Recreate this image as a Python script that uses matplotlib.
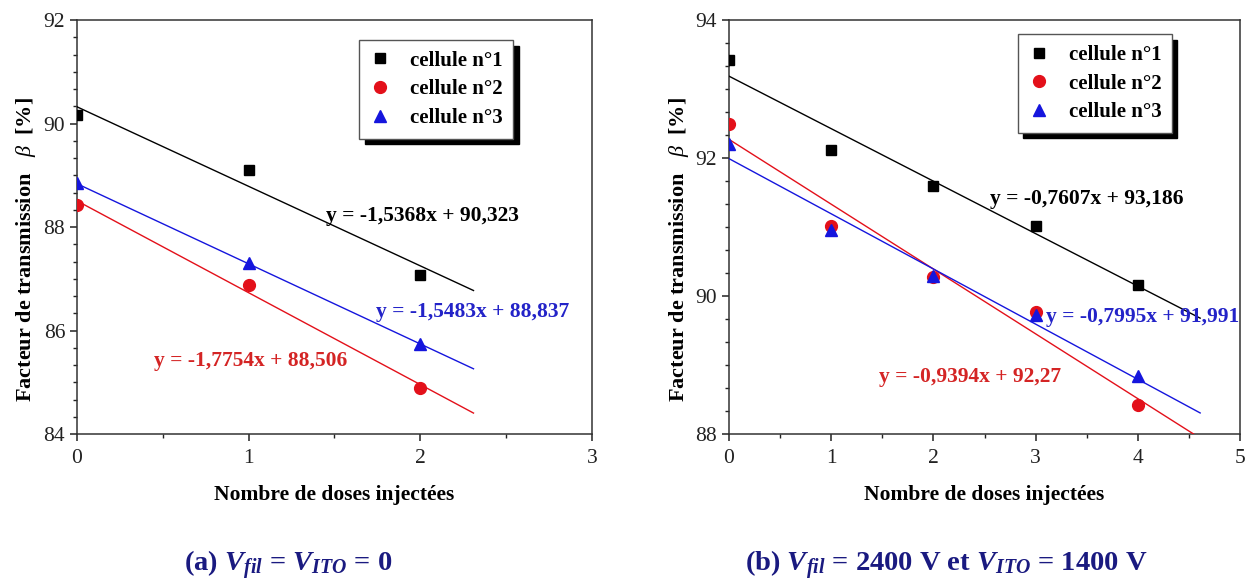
import matplotlib
matplotlib.use("Agg")
import matplotlib.pyplot as plt
from matplotlib.ticker import MultipleLocator
import numpy as np

plt.rcParams['font.family'] = ['Liberation Serif', 'DejaVu Serif']
plt.rcParams['mathtext.fontset'] = 'custom'
plt.rcParams['mathtext.rm'] = 'Liberation Serif'
plt.rcParams['mathtext.it'] = 'Liberation Serif:italic'
plt.rcParams['mathtext.bf'] = 'Liberation Serif:bold'
plt.rcParams['mathtext.bfit'] = 'Liberation Serif:italic:bold'

# ---------------- data ----------------
labels = ["cellule n°1", "cellule n°2", "cellule n°3"]

# panel (a)
xa = [0, 1, 2]
a_c1 = [90.17, 89.11, 87.08]
a_c2 = [88.43, 86.88, 84.88]
a_c3 = [88.85, 87.31, 85.73]
a_slopes = [-1.5368, -1.7754, -1.5483]
a_inter = [90.323, 88.506, 88.837]
a_eq = ["y = -1,5368x + 90,323", "y = -1,7754x + 88,506", "y = -1,5483x + 88,837"]
a_fit_end = [2.31, 2.31, 2.31]

# panel (b)
xb = [0, 1, 2, 3, 4]
b_c1 = [93.42, 92.11, 91.60, 91.02, 90.16]
b_c2 = [92.50, 91.02, 90.27, 89.77, 88.42]
b_c3 = [92.21, 90.96, 90.29, 89.73, 88.84]
b_slopes = [-0.7607, -0.9394, -0.7995]
b_inter = [93.186, 92.27, 91.991]
b_eq = ["y = -0,7607x + 93,186", "y = -0,9394x + 92,27", "y = -0,7995x + 91,991"]
b_fit_end = [4.61, 4.6, 4.61]

xlabel = "Nombre de doses injectées"
ylabel = r"Facteur de transmission   $\beta$  [%]"
cap_a = r"(a) $\mathbfit{V_{fil}}$ = $\mathbfit{V_{ITO}}$ = 0"
cap_b = r"(b) $\mathbfit{V_{fil}}$ = 2400 V et $\mathbfit{V_{ITO}}$ = 1400 V"

colors = ['black', '#e3101a', '#1515dd']
eq_colors = ['black', '#d42424', '#2323c8']
markers = ['s', 'o', '^']

fig = plt.figure(figsize=(12.47, 5.85), dpi=100)
ax1 = fig.add_axes([0.0617, 0.2581, 0.4130, 0.7077])
ax2 = fig.add_axes([0.5846, 0.2581, 0.4098, 0.7077])

def style(ax, xlim, ylim, xmaj, ymaj):
    ax.set_xlim(*xlim)
    ax.set_ylim(*ylim)
    ax.xaxis.set_major_locator(MultipleLocator(xmaj))
    ax.xaxis.set_minor_locator(MultipleLocator(0.5))
    ax.yaxis.set_major_locator(MultipleLocator(ymaj))
    ax.yaxis.set_minor_locator(MultipleLocator(ymaj / 6))
    ax.tick_params(which='major', direction='out', length=5, width=1.1, labelsize=15.5,
                   colors='#222222', pad=3.5)
    ax.tick_params(axis='x', which='major', pad=6)
    ax.tick_params(which='minor', direction='out', length=3, width=1.0, colors='#222222')
    for s in ax.spines.values():
        s.set_color('#333333')
        s.set_linewidth(1.1)
    ax.set_xlabel(xlabel, fontsize=15.5, fontweight='bold', labelpad=12)
    ax.set_ylabel(ylabel, fontsize=16, fontweight='bold')
    ax.yaxis.set_label_coords(-0.075, 0.445)

def panel(ax, x, series, slopes, inter, eqs, ends, eq_pos, leg_anchor):
    for i, ys in enumerate(series):
        ax.plot(x, ys, linestyle='none', marker=markers[i], color=colors[i],
                markersize=8.5 if markers[i] != 's' else 7.5, label=labels[i], zorder=4)
        xf = np.array([0, ends[i]])
        ax.plot(xf, slopes[i] * xf + inter[i], color=colors[i], lw=1.0, zorder=3)
        ax.text(eq_pos[i][0], eq_pos[i][1], eqs[i], color=eq_colors[i], fontsize=15.5,
                fontweight='bold', ha='left', va='center', zorder=5)
    leg = ax.legend(loc='upper left', bbox_to_anchor=leg_anchor,
                    prop={'weight': 'bold', 'size': 15}, frameon=True, fancybox=False,
                    shadow={'ox': 4, 'oy': -4, 'color': 'black', 'alpha': 1.0},
                    handlelength=1.0, handletextpad=0.95, borderpad=0.5,
                    labelspacing=0.42, borderaxespad=0, markerscale=1.0)
    leg.get_frame().set_edgecolor('#555555')
    leg.get_frame().set_linewidth(1.0)

style(ax1, (0, 3), (84, 92), 1, 2)
style(ax2, (0, 5), (88, 94), 1, 2)

panel(ax1, xa, [a_c1, a_c2, a_c3], a_slopes, a_inter, a_eq, a_fit_end,
      [(1.45, 88.22), (0.45, 85.42), (1.74, 86.35)], (0.5476, 0.951))
panel(ax2, xb, [b_c1, b_c2, b_c3], b_slopes, b_inter, b_eq, b_fit_end,
      [(2.55, 91.41), (1.47, 88.82), (3.1, 89.7)], (0.565, 0.965))

fig.text(0.231, 0.034, cap_a, fontsize=20.5, fontweight='bold', color='#1a1a80',
         ha='center', va='center')
fig.text(0.7586, 0.034, cap_b, fontsize=20.5, fontweight='bold', color='#1a1a80',
         ha='center', va='center')

fig.savefig("out.png", dpi=100)
